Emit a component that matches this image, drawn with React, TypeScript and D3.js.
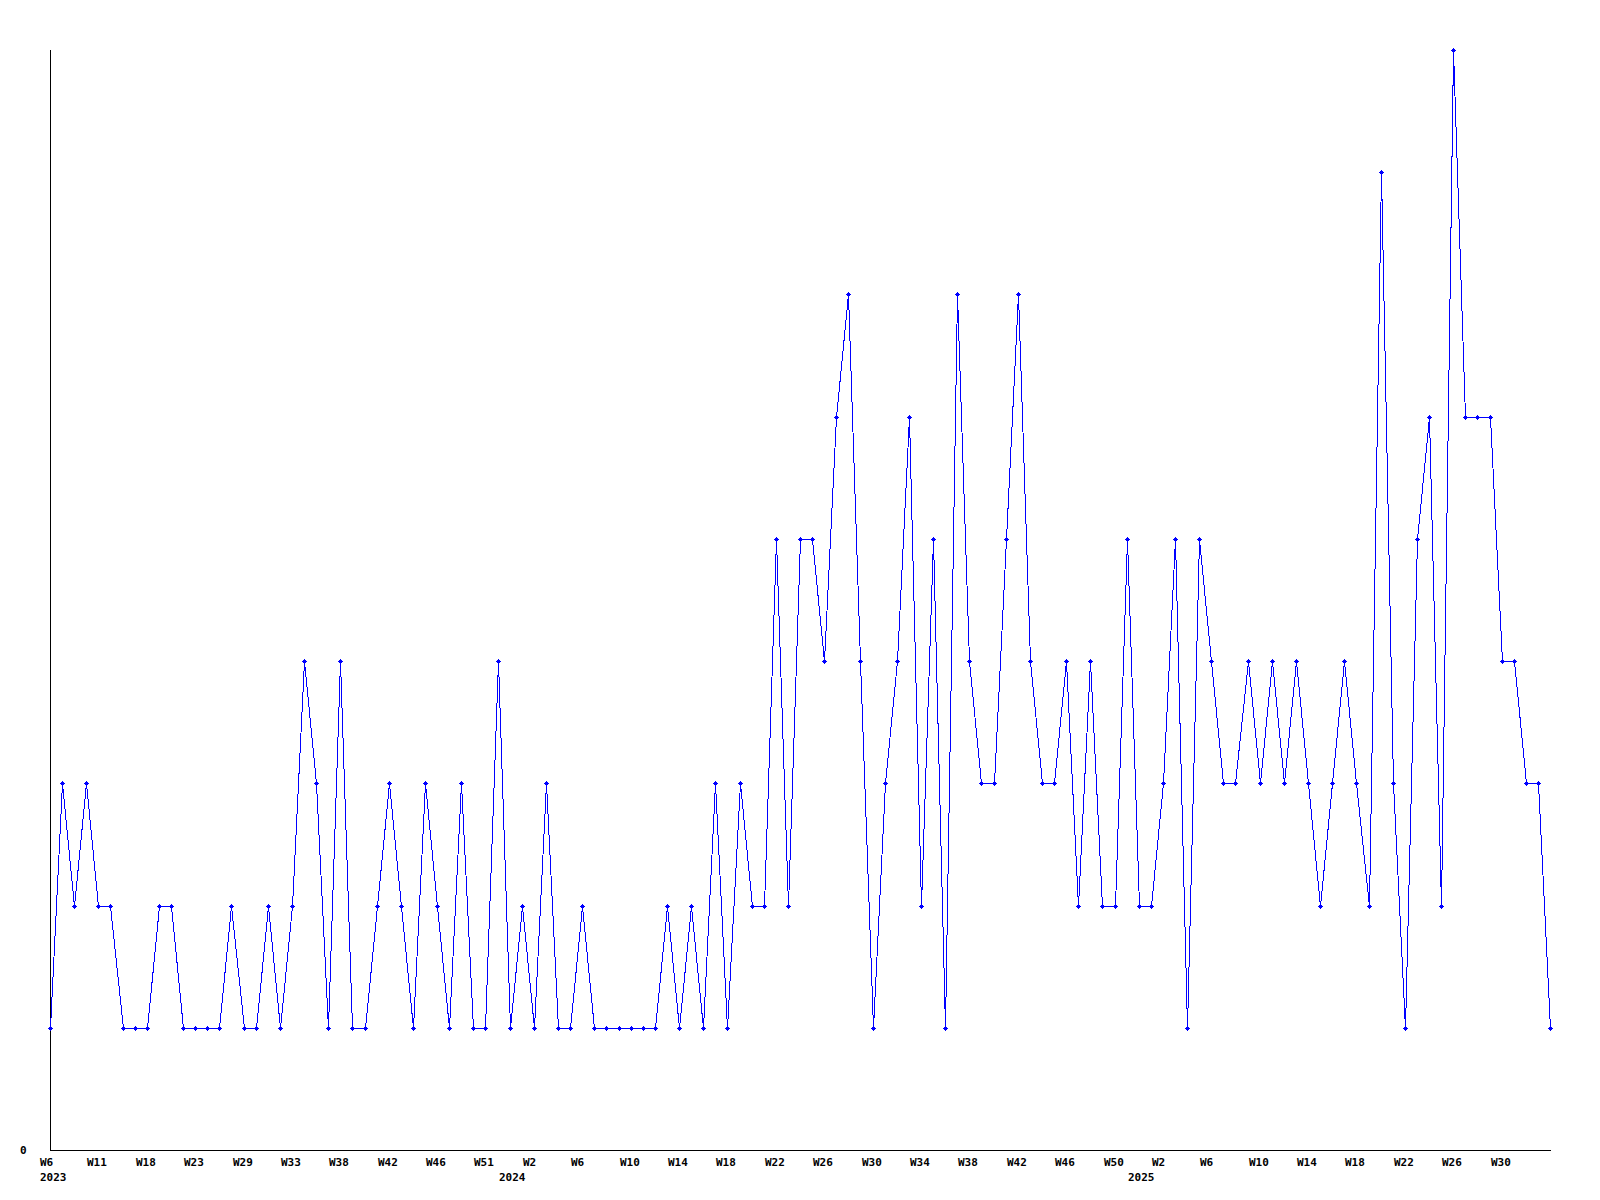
import React from "react";
import * as d3 from "d3";

// Weekly counts, 2023 W6 .. 2025 W33 (125 points)
const values: number[] = [
  1, 3, 2, 3, 2, 2, 1, 1, 1, 2,
  2, 1, 1, 1, 1, 2, 1, 1, 2, 1,
  2, 4, 3, 1, 4, 1, 1, 2, 3, 2,
  1, 3, 2, 1, 3, 1, 1, 4, 1, 2,
  1, 3, 1, 1, 2, 1, 1, 1, 1, 1,
  1, 2, 1, 2, 1, 3, 1, 3, 2, 2,
  5, 2, 5, 5, 4, 6, 7, 4, 1, 3,
  4, 6, 2, 5, 1, 7, 4, 3, 3, 5,
  7, 4, 3, 3, 4, 2, 4, 2, 2, 5,
  2, 2, 3, 5, 1, 5, 4, 3, 3, 4,
  3, 4, 3, 4, 3, 2, 3, 4, 3, 2,
  8, 3, 1, 5, 6, 2, 9, 6, 6, 6,
  4, 4, 3, 3, 1,
];

// Tick labels, one every 4 points
const tickLabels: string[] = [
  "W6", "W11", "W18", "W23", "W29", "W33", "W38", "W42", "W46", "W51",
  "W2", "W6", "W10", "W14", "W18", "W22", "W26", "W30", "W34", "W38",
  "W42", "W46", "W50",
  "W2", "W6", "W10", "W14", "W18", "W22", "W26", "W30",
];
const tickStep = 4;

const yearLabels: string[] = ["2023", "2024", "2025"];
const yearStartIndex: number[] = [0, 39, 91];

const yMax = 9;
const yTickLabels: string[] = ["0"];

const W = 1600;
const H = 1200;
const left = 50;
const right = 1550;
const top = 50;
const bottom = 1150;

const FONT = "'DejaVu Sans Mono', monospace";

export default function App() {
  const x = d3.scaleLinear().domain([0, values.length - 1]).range([left, right]);
  const y = d3.scaleLinear().domain([0, yMax]).range([bottom, top]);

  const line = d3
    .line<number>()
    .x((_, i) => Math.round(x(i)) + 0.5)
    .y((d) => Math.round(y(d)) + 0.5);

  const markerPath = (cx: number, cy: number) =>
    `M${cx - 2.5},${cy - 0.5}h5v1h-5z M${cx - 0.5},${cy - 2.5}h1v5h-1z M${cx - 1.5},${cy - 1.5}h3v3h-3z`;

  return (
    <svg
      width={W}
      height={H}
      style={{ position: "absolute", left: 0, top: 0, display: "block", background: "#fff" }}
    >
      <rect x={0} y={0} width={W} height={H} fill="#fff" />
      {/* axes */}
      <line x1={left + 0.5} y1={top} x2={left + 0.5} y2={bottom + 1} stroke="#000" strokeWidth={1} shapeRendering="crispEdges" />
      <line x1={left} y1={bottom + 0.5} x2={right + 1} y2={bottom + 0.5} stroke="#000" strokeWidth={1} shapeRendering="crispEdges" />

      {/* y label */}
      {yTickLabels.map((t, i) => (
        <text key={"y" + i} x={20} y={y(0) + 3.5} fontFamily={FONT} fontWeight="bold" fontSize={11} fill="#000">
          {t}
        </text>
      ))}

      {/* x tick labels */}
      {tickLabels.map((t, i) => (
        <text
          key={"t" + i}
          x={Math.max(Math.round(x(i * tickStep)) - 11, 40)}
          y={1165.5}
          fontFamily={FONT}
          fontWeight="bold"
          fontSize={11}
          fill="#000"
        >
          {t}
        </text>
      ))}

      {/* year labels */}
      {yearLabels.map((t, i) => (
        <text
          key={"yr" + i}
          x={Math.max(Math.round(x(yearStartIndex[i])) - 23, 40)}
          y={1181}
          fontFamily={FONT}
          fontWeight="bold"
          fontSize={11}
          fill="#000"
        >
          {t}
        </text>
      ))}

      {/* series */}
      <path d={line(values) || ""} fill="none" stroke="#0000ff" strokeWidth={1} shapeRendering="crispEdges" />
      {values.map((v, i) => (
        <path
          key={"m" + i}
          d={markerPath(Math.round(x(i)) + 0.5, Math.round(y(v)) + 0.5)}
          fill="#0000ff"
          shapeRendering="crispEdges"
        />
      ))}
    </svg>
  );
}
